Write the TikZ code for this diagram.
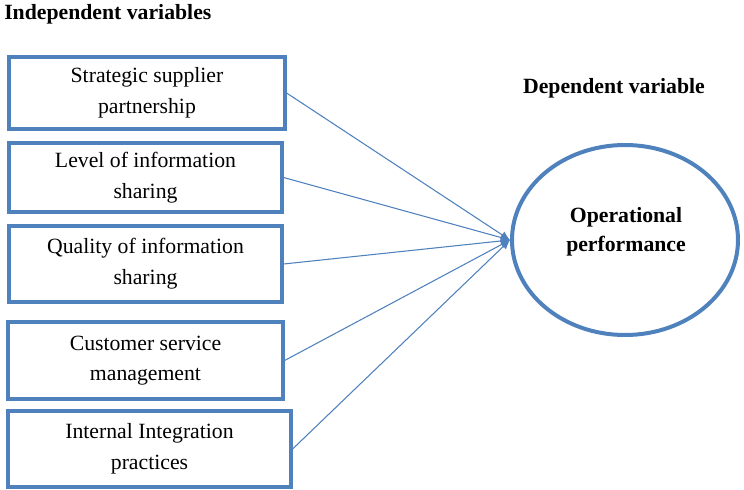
\documentclass[tikz,border=0pt]{standalone}
\usepackage{fontspec}
\setmainfont{Liberation Serif}
\usepackage{xcolor}
\usetikzlibrary{shapes,arrows.meta,positioning,calc}
\definecolor{blue1}{RGB}{79,129,189}

\begin{document}
\begin{tikzpicture}[x=0.75pt, y=-0.75pt,
    varbox/.style={draw=blue1, line width=2.4pt, rectangle, align=center, font=\fontsize{16.3}{23}\selectfont},
    heading/.style={font=\fontsize{16.3}{20}\selectfont\bfseries, inner sep=0pt},
    link/.style={-{Latex[length=7pt,width=6pt]}, draw=blue1, line width=0.8pt}]
    \useasboundingbox (0,0) rectangle (744,490);

    \node[heading, anchor=base west] (indep) at (4,19) {Independent variables};
    \node[heading, anchor=base] (dep) at (614,93) {Dependent variable};

    \node[varbox, minimum width=276*0.75pt, minimum height=72*0.75pt] (ssp) at (147,93) {Strategic supplier\\partnership};
    \node[varbox, minimum width=273*0.75pt, minimum height=69*0.75pt] (lis) at (145.5,177.5) {Level of information\\sharing};
    \node[varbox, minimum width=273*0.75pt, minimum height=76*0.75pt] (qis) at (145.5,264) {Quality of information\\sharing};
    \node[varbox, minimum width=275*0.75pt, minimum height=77*0.75pt] (csm) at (145.5,360.5) {Customer service\\management};
    \node[varbox, minimum width=283*0.75pt, minimum height=76*0.75pt] (iip) at (149.5,449) {Internal Integration\\practices};

    \node[draw=blue1, line width=3pt, ellipse, minimum width=226*0.75pt, minimum height=190*0.75pt] (perf) at (625,240) {};
    \node[align=center, font=\fontsize{16.3}{21.5}\selectfont\bfseries] (perftext) at (626,232) {Operational\\performance};

    % all independent variables point to the dependent one
    \foreach \v in {ssp,lis,qis,csm,iip}
        \draw[link] (\v.east) -- (perf.west);
\end{tikzpicture}
\end{document}
